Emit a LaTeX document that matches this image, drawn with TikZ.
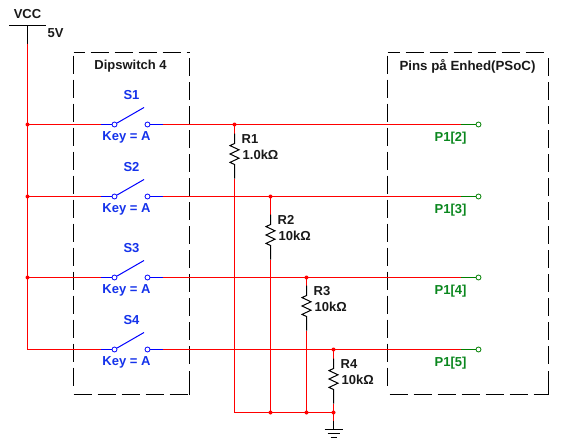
\documentclass[tikz,border=0pt]{standalone}
\usepackage{fontspec}
\setmainfont{Liberation Sans}
\definecolor{wred}{RGB}{255,0,0}
\definecolor{wblue}{RGB}{0,0,255}
\definecolor{wgreen}{RGB}{0,128,0}
\definecolor{tblue}{RGB}{20,50,235}
\definecolor{tgreen}{RGB}{10,135,30}
\definecolor{tblack}{RGB}{25,25,25}
\tikzset{
 wire/.style={draw=wred,line width=1.1pt},
 bluewire/.style={draw=wblue,line width=1pt},
 greenwire/.style={draw=wgreen,line width=1pt},
 blk/.style={draw=black,line width=1pt},
 dbox/.style={draw=black,line width=1pt},
 dashv/.style={dbox,dash pattern=on 18pt off 6pt},
 dot/.style={circle,fill=wred,inner sep=0pt,minimum size=4pt},
 swterm/.style={circle,draw=wblue,fill=white,line width=.8pt,inner sep=0pt,minimum size=5pt},
 pinterm/.style={circle,draw=wgreen,fill=white,line width=.8pt,inner sep=0pt,minimum size=5pt},
 lbl/.style={font=\fontsize{13}{13}\selectfont\bfseries,inner sep=0pt,text=#1},
 lbl/.default=tblack,
}
\begin{document}
\begin{tikzpicture}[x=1pt,y=-1pt]
\useasboundingbox (-0.5,-0.5) rectangle (570.5,446.5);
\fill[white] (-0.5,-0.5) rectangle (570.5,446.5);
% boxes
\draw[dashv,dash phase=7pt] (73,52) -- (189,52);
\draw[dashv] (73,55) -- (73,385);
\draw[dashv] (73,394) -- (189,394);
\draw[dbox] (189,394) -- (189,370);
\draw[dashv] (189,363) -- (189,55);
\draw[dashv,dash phase=6pt] (387,52) -- (548,52);
\draw[dashv] (387,55) -- (387,388);
\draw[dashv] (389,394) -- (548,394);
\draw[dbox] (548,394) -- (548,370);
\draw[dashv] (548,363) -- (548,55);
\node[lbl] (dip) at (130,66) {Dipswitch 4};
\node[lbl,font=\fontsize{13.3}{13}\selectfont\bfseries] (pins) at (467,66) {Pins på Enhed(PSoC)};
% supply
\coordinate (vcc) at (27,25);
\coordinate (vccb) at (27,43);
\coordinate (barl) at (9,25);
\coordinate (barr) at (45,25);
\draw[blk] (barl) -- (barr);
\draw[blk] (vcc) -- (vccb);
\node[lbl] (vcct) at (27,14) {VCC};
\node[lbl] (vcv) at (55,33) {5V};
\coordinate (railend) at (27,349);
\draw[wire] (vccb) -- (railend);
% switch rows
\foreach \n/\y/\p in {1/124/2,2/196/3,3/277/4,4/349/5}{
  \coordinate (l\n) at (27,\y);
  \coordinate (a\n) at (100,\y);
  \coordinate (b\n) at (162,\y);
  \coordinate (c\n) at (460,\y);
  \coordinate (lev\n) at (143.5,\y-17);
  \node[swterm] (t\n) at (114,\y) {};
  \node[swterm] (u\n) at (147,\y) {};
  \node[pinterm] (p\n) at (478,\y) {};
  \draw[wire] (l\n) -- (a\n);
  \draw[bluewire] (a\n) -- (t\n);
  \draw[bluewire] (t\n) -- (lev\n);
  \draw[bluewire] (u\n) -- (b\n);
  \draw[wire] (b\n) -- (c\n);
  \draw[greenwire] (c\n) -- (p\n);
  \node[lbl=tblue] (s\n) at (131,\y-29) {S\n};
  \node[lbl=tblue] (k\n) at (126,\y+13) {Key = A};
  \node[lbl=tgreen] (pl\n) at (450,\y+13.5) {P1[\p]};
}
\foreach \n in {1,2,3}{\node[dot] at (l\n) {};}
% resistors
\foreach \n/\x/\y/\top/\val in {1/234/124/133/1.0k,2/270/196/214/10k,3/306/277/285/10k,4/333/349/358/10k}{
  \coordinate (j\n) at (\x,\y);
  \coordinate (rt\n) at (\x,\top);
  \coordinate (rb\n) at (\x,\top+45);
  \coordinate (bot\n) at (\x,412);
  \draw[wire] (j\n) -- (rt\n);
  \draw[wire] (rb\n) -- (bot\n);
  \draw[blk] (rt\n) -- ++(0,10) -- ++(-4.5,2.1) -- ++(9,4.2) -- ++(-9,4.2) -- ++(9,4.2) -- ++(-9,4.2) -- ++(4.5,2.1) -- (rb\n);
  \node[dot] at (j\n) {};
  \node[lbl,anchor=west] (rn\n) at (\x+7,\top+5.5) {R\n};
  \node[lbl,anchor=west] (rv\n) at (\x+8,\top+21.5) {\val Ω};
}
\draw[wire] (bot1) -- (bot4);
\node[dot] at (bot2) {};
\node[dot] at (bot3) {};
\node[dot] at (bot4) {};
% ground
\coordinate (gw) at (333,420);
\coordinate (g0) at (333,429);
\draw[wire] (bot4) -- (gw);
\draw[blk] (gw) -- (g0);
\draw[blk] (324,429) -- (342,429);
\draw[blk] (327,433) -- (339,433);
\draw[blk] (330,437) -- (336,437);
\end{tikzpicture}
\end{document}
